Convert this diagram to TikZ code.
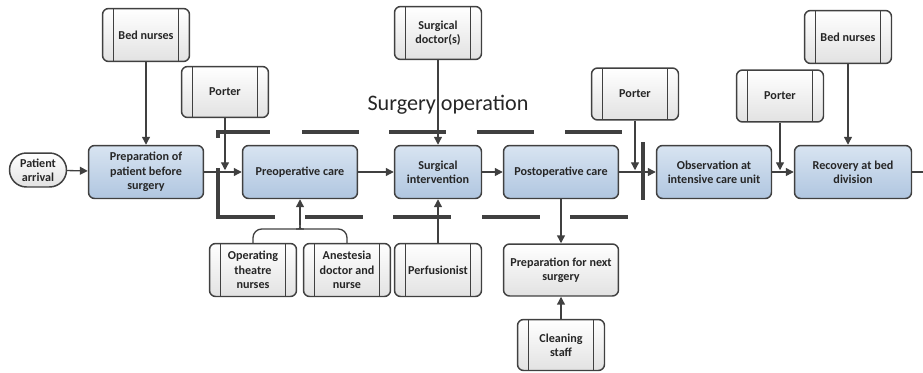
\documentclass[tikz,border=0pt]{standalone}
\usepackage{fontspec}
\setmainfont{Carlito}
\usetikzlibrary{arrows.meta}
\definecolor{boxline}{HTML}{404040}
\definecolor{steptop}{HTML}{D8E4F1}
\definecolor{stepbot}{HTML}{B0C6E0}
\definecolor{restop}{HTML}{FFFFFF}
\definecolor{resbot}{HTML}{E2E2E2}
\tikzset{
  stepbox/.style={draw=boxline, line width=0.85pt, rounded corners=3.5pt,
    top color=steptop, bottom color=stepbot, minimum width=2.3cm,
    minimum height=1.06cm, align=center, inner sep=1pt, text=black!85,
    font=\bfseries\fontsize{6.9}{8.2}\selectfont},
  plainbox/.style={stepbox, top color=restop, bottom color=resbot},
  resbox/.style={plainbox, minimum width=1.74cm,
    path picture={\draw[boxline, line width=0.6pt]
      ([xshift=0.22cm]path picture bounding box.north west) -- ([xshift=0.22cm]path picture bounding box.south west)
      ([xshift=-0.22cm]path picture bounding box.north east) -- ([xshift=-0.22cm]path picture bounding box.south east);}},
  flow/.style={draw=boxline, line width=0.75pt, -{Triangle[length=4.5pt,width=4.5pt]}},
  link/.style={draw=boxline, line width=0.75pt},
  wall/.style={draw=boxline, line width=2pt}
}
\begin{document}
\begin{tikzpicture}[x=0.02cm, y=-0.02cm]
\useasboundingbox (0,0) rectangle (923,372);

\foreach \x in {302,389,477,565} \draw[wall] (\x,132) -- ++(57,0);
\foreach \x in {305,393,482,570} \draw[wall] (\x,217) -- ++(58,0);
\draw[wall] (218,138) -- (218,132) -- (270,132);
\draw[wall] (218,168) -- (218,217) -- (275,217);
\draw[wall] (643,142) -- (643,200);

\node[plainbox, rounded corners=0.34cm, minimum width=1.14cm, minimum height=0.68cm] (arrival) at (38,170) {Patient\\arrival};
\node[stepbox] (prep) at (146,172) {Preparation of\\patient before\\surgery};
\node[stepbox] (preop) at (300,172) {Preoperative care};
\node[stepbox, minimum width=1.74cm] (surg) at (438,172) {Surgical\\intervention};
\node[stepbox] (postop) at (561,172) {Postoperative care};
\node[stepbox] (icu) at (714,172) {Observation at\\intensive care unit};
\node[stepbox, minimum width=2.34cm] (recov) at (853,172) {Recovery at bed\\division};
\node[plainbox, minimum height=1.04cm] (nextop) at (561,270) {Preparation for next\\surgery};

\node[resbox] (bedA) at (146,35) {Bed nurses};
\node[resbox, minimum height=1.02cm] (porterA) at (225,92) {Porter};
\node[resbox] (doctor) at (438,33) {Surgical\\doctor(s)};
\node[resbox, minimum height=1.04cm] (porterB) at (635,94) {Porter};
\node[resbox, minimum height=1.04cm] (porterC) at (780,96) {Porter};
\node[resbox] (bedB) at (848,37) {Bed nurses};
\node[resbox] (ornurse) at (253,270) {Operating\\theatre\\nurses};
\node[resbox] (anest) at (347,270) {Anestesia\\doctor and\\nurse};
\node[resbox] (perf) at (438,270) {Perfusionist};
\node[resbox, minimum height=1.02cm] (clean) at (561,345) {Cleaning\\staff};

\node[font=\fontsize{12.6}{15}\selectfont, text=black!85] (title) at (448,105) {Surgery operation};

\coordinate (exit) at (923,172);
\coordinate (join) at (300,225);

\draw[flow] (arrival) -- (prep);
\draw[flow] (prep) -- (preop);
\draw[flow] (preop) -- (surg);
\draw[flow] (surg) -- (postop);
\draw[flow] (postop) -- (icu);
\draw[flow] (icu) -- (recov);
\draw[link] (recov) -- (exit);
\draw[flow] (bedA) -- (prep);
\draw[flow, shorten >=1pt] (porterA) -- (porterA |- prep);
\draw[flow] (doctor) -- (surg);
\draw[flow] (perf) -- (surg);
\draw[flow, shorten >=1pt] (porterB) -- (porterB |- postop);
\draw[flow, shorten >=1pt] (porterC) -- (porterC |- icu);
\draw[flow] (bedB) -- (bedB |- recov.north);
\draw[flow] (postop) -- (nextop);
\draw[flow] (clean) -- (nextop);
\draw[link] (ornurse.north) [rounded corners=5pt] |- ([shift={(-5,4)}]join) [sharp corners] .. controls +(5,0) .. (join);
\draw[link] (anest.north) [rounded corners=5pt] |- ([shift={(5,4)}]join) [sharp corners] .. controls +(-5,0) .. (join);
\draw[flow] (join) -- (preop);
\end{tikzpicture}
\end{document}
